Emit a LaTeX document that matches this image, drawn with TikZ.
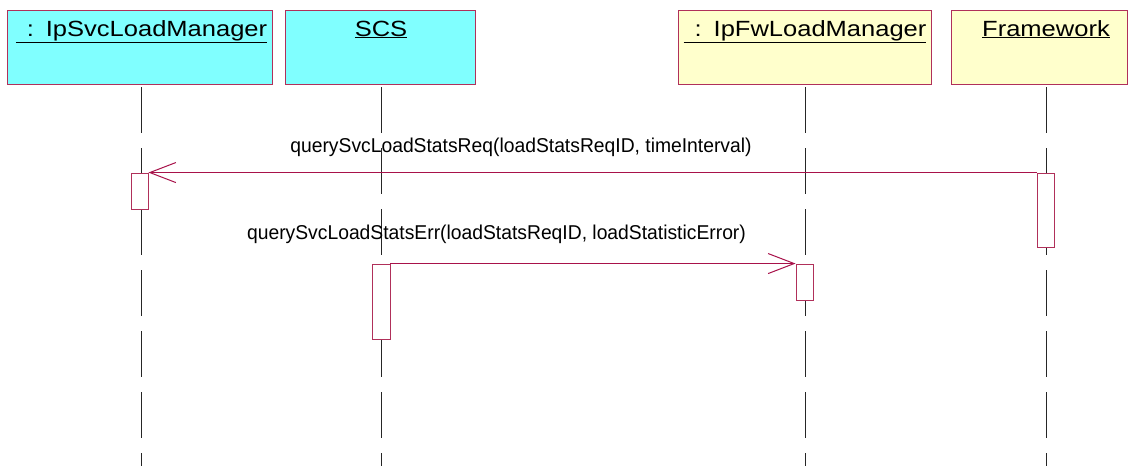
\documentclass[tikz,border=0pt]{standalone}
\usepackage{fontspec}
\setmainfont{Liberation Sans}
\newfontfamily\hdrfont[FakeStretch=1.16]{Liberation Sans}
\newfontfamily\msgfont[FakeStretch=0.965]{Liberation Sans}
\usetikzlibrary{arrows.meta}
\definecolor{hdrcyan}{HTML}{80FFFF}
\definecolor{hdryellow}{HTML}{FFFFCC}
\definecolor{edge}{HTML}{B0305A}
\definecolor{msgcol}{HTML}{A8124A}
\begin{document}
\begin{tikzpicture}[x=1pt,y=-1pt,
  hdr/.style={draw=edge, line width=0.9pt, minimum height=74pt, inner sep=0pt},
  hdrtext/.style={font=\hdrfont\fontsize{22}{26}\selectfont, inner sep=0pt, anchor=base},
  lifeline/.style={line width=0.8pt, black!85, dash pattern=on 46pt off 15pt},
  act/.style={draw=edge, line width=0.9pt, fill=white, minimum width=17pt, inner sep=0pt},
  msg/.style={draw=msgcol, line width=0.8pt, -{Straight Barb[length=26pt,width=20pt,line width=1pt]}},
  msgtext/.style={font=\msgfont\fontsize{20}{24}\selectfont, inner sep=0pt, anchor=base}]
\useasboundingbox (0,0) rectangle (1131,466);
\fill[white] (0,0) rectangle (1131,466);
% header boxes
\node[hdr, fill=hdrcyan, minimum width=265pt] (h1) at (139.5,47) {};
\node[hdr, fill=hdrcyan, minimum width=190pt] (h2) at (380,47) {};
\node[hdr, fill=hdryellow, minimum width=253pt] (h3) at (804.5,47) {};
\node[hdr, fill=hdryellow, minimum width=176pt] (h4) at (1039,47) {};
\node[hdrtext] (t1) at (141.5,36) {\underline{\hspace{11pt}:\hspace{12pt}IpSvcLoadManager}};
\node[hdrtext] (t2) at (381,36) {\underline{SCS}};
\node[hdrtext] (t3) at (805,36) {\underline{\hspace{11pt}:\hspace{12pt}IpFwLoadManager}};
\node[hdrtext] (t4) at (1046,36) {\underline{Framework}};
% lifelines
\coordinate (e1) at (141,466);
\coordinate (e2) at (381,466);
\coordinate (e3) at (805,466);
\coordinate (e4) at (1046,466);
\draw[lifeline] ([yshift=-3pt]h1.south -| e1) -- (e1);
\draw[lifeline] ([yshift=-3pt]h2.south -| e2) -- (e2);
\draw[lifeline] ([yshift=-3pt]h3.south -| e3) -- (e3);
\draw[lifeline] ([yshift=-3pt]h4.south -| e4) -- (e4);
% activations
\node[act, minimum height=36pt] (a1) at (139.5,191) {};
\node[act, minimum width=18pt, minimum height=75pt] (a2) at (381,301.5) {};
\node[act, minimum height=36pt] (a3) at (804.5,282) {};
\node[act, minimum height=74pt] (a4) at (1045.5,210) {};
% messages
\draw[msg] (a4.north west) -- (a1.north east);
\node[msgtext] (m1) at (521,152) {querySvcLoadStatsReq(loadStatsReqID, timeInterval)};
\draw[msg] (a2.north east) -- (a3.north west);
\node[msgtext] (m2) at (496.5,239) {querySvcLoadStatsErr(loadStatsReqID, loadStatisticError)};
\end{tikzpicture}
\end{document}
